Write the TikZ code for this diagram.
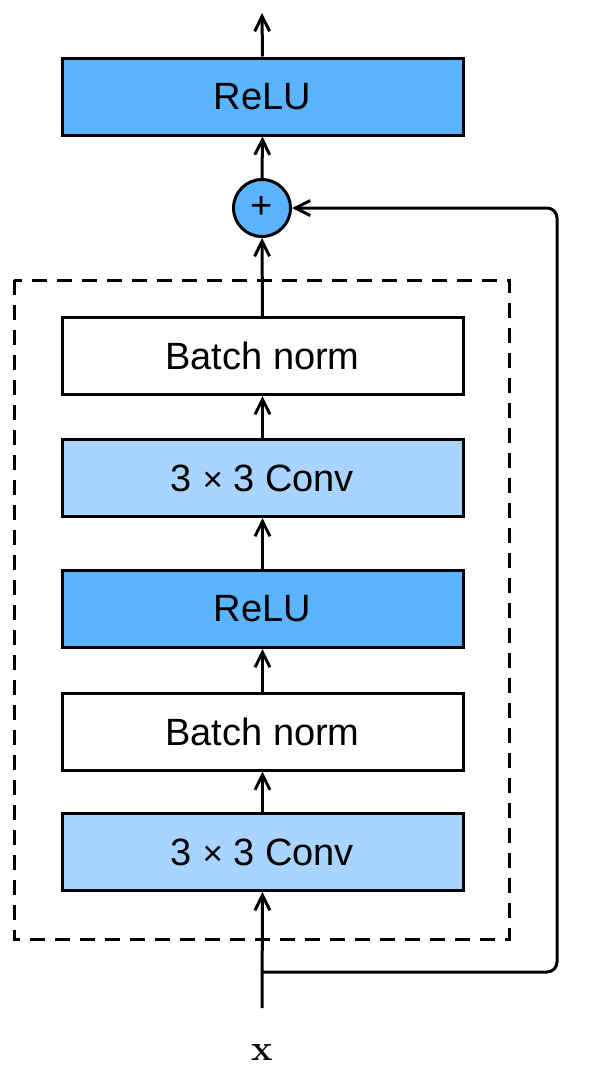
\documentclass[tikz,border=0pt]{standalone}
\usepackage{fontspec}
\setmainfont{Latin Modern Roman}
\newfontfamily\arialfont{Liberation Sans}
\usetikzlibrary{arrows.meta}
\definecolor{reluc}{RGB}{90,180,255}
\definecolor{convc}{RGB}{168,212,255}
\begin{document}
\begin{tikzpicture}[x=1pt,y=-1pt,
  layerbox/.style={draw=black,line width=3pt,minimum width=401pt,minimum height=77pt,inner sep=0pt,
    font=\arialfont\fontsize{38}{44}\selectfont},
  arr/.style={line width=3pt,-{Straight Barb[length=15pt,width=15pt,line width=3pt]}},
  dashbox/.style={draw=black,line width=3pt,dash pattern=on 15pt off 10pt}]
\fill[white] (0,0) rectangle (594,1072);
\useasboundingbox (0,0) rectangle (594,1072);
\node[layerbox,fill=reluc] (relu2) at (262.5,96.5) {ReLU};
\node[circle,draw=black,line width=3pt,fill=reluc,minimum size=57pt,inner sep=0pt,
  font=\arialfont\fontsize{38}{40}\selectfont] (plus) at (262,208) {+};
\draw[dashbox] (14,280) rectangle (509,939);
\node[layerbox,fill=white] (bn2) at (262.5,356) {Batch norm};
\node[layerbox,fill=convc] (conv2) at (262.5,478) {3 {\fontsize{35}{34}\selectfont×} 3 Conv};
\node[layerbox,fill=reluc] (relu1) at (262.5,609) {ReLU};
\node[layerbox,fill=white] (bn1) at (262.5,731.5) {Batch norm};
\node[layerbox,fill=convc] (conv1) at (262.5,852) {3 {\fontsize{35}{34}\selectfont×} 3 Conv};
\coordinate (in) at (262,1008);
\coordinate (branch) at (262,972);
\coordinate (out) at (262,13);
\coordinate (rc1) at (557,972);
\coordinate (rc2) at (557,208);
\node[font=\bfseries\fontsize{36}{40}\selectfont] (xlab) at (262,1052) {x};
\draw[arr] (in) -- (conv1.south);
\draw[arr] (conv1.north) -- (bn1.south);
\draw[arr] (bn1.north) -- (relu1.south);
\draw[arr] (relu1.north) -- (conv2.south);
\draw[arr] (conv2.north) -- (bn2.south);
\draw[arr] (bn2.north) -- (plus.south);
\draw[arr] (plus.north) -- (relu2.south);
\draw[arr] (relu2.north) -- (out);
\draw[arr,rounded corners=10pt] (branch) -- (rc1) -- (rc2) -- (plus.east);
\end{tikzpicture}
\end{document}
